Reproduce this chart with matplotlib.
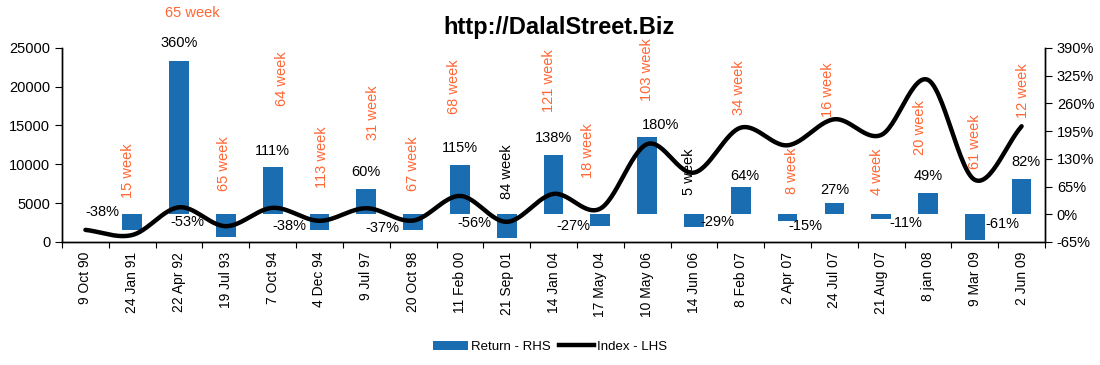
import numpy as np
import matplotlib
matplotlib.use("Agg")
import matplotlib.pyplot as plt
from matplotlib.patches import Patch
from matplotlib.lines import Line2D

plt.rcParams['font.family'] = ['Liberation Sans', 'DejaVu Sans']

# === data ===
dates = ["9 Oct 90", "24 Jan 91", "22 Apr 92", "19 Jul 93", "7 Oct 94", "4 Dec 94",
         "9 Jul 97", "20 Oct 98", "11 Feb 00", "21 Sep 01", "14 Jan 04", "17 May 04",
         "10 May 06", "14 Jun 06", "8 Feb 07", "2 Apr 07", "24 Jul 07", "21 Aug 07",
         "8 jan 08", "9 Mar 09", "2 Jun 09"]
index_lhs = [1560, 900, 4467, 2037, 4400, 2730, 4350, 2760, 5930, 2600, 6190, 4300,
             12600, 8930, 14720, 12450, 15800, 13780, 20870, 8000, 14900]
return_rhs = [np.nan, -38, 360, -53, 111, -38, 60, -37, 115, -56, 138, -27, 180, -29,
              64, -15, 27, -11, 49, -61, 82]
weeks = [None, 15, 65, 65, 64, 113, 31, 67, 68, 84, 121, 18, 103, 5, 34, 8, 16, 4,
         20, 61, 12]

# === label layout (x offset in categories, y in RHS %) ===
week_dx = [0, -0.09, 0.28, -0.04, 0.2, 0.06, 0.15, 0, -0.13, 0, -0.1, -0.26, 0,
           -0.1, -0.04, 0.1, -0.13, -0.08, -0.17, 0, 0.04]
week_y = [0, 101, 471, 118, 317, 134, 239, 118, 300, 99, 314, 148, 340, 99, 296,
          101, 291, 99, 204, 169, 289]
ret_dx = [0, -0.64, 0, -0.83, 0, -0.64, 0, -0.66, 0, -0.7, 0, -0.58, 0.28, 0.51,
          0.09, 0.38, 0, 0.53, 0, 0.6, 0.1]
ret_y = [0, 5, 401, -18, 148, -28, 99, -32, 155, -20, 179, -28, 209, -18, 90, -28,
         57, -20, 90, -23, 122]

BLUE = '#1A6DB0'
ORANGE = '#FF6633'


def smooth(x, y, n=30):
    # catmull-rom style smoothing like the spreadsheet "smoothed line"
    x = np.asarray(x, float)
    y = np.asarray(y, float)
    px = np.concatenate([[2 * x[0] - x[1]], x, [2 * x[-1] - x[-2]]])
    py = np.concatenate([[2 * y[0] - y[1]], y, [2 * y[-1] - y[-2]]])
    xs, ys = [], []
    t = np.linspace(0, 1, n, endpoint=False)
    for i in range(1, len(px) - 2):
        p0, p1, p2, p3 = py[i - 1], py[i], py[i + 1], py[i + 2]
        ys.append(0.5 * (2 * p1 + (-p0 + p2) * t + (2 * p0 - 5 * p1 + 4 * p2 - p3) * t ** 2
                         + (-p0 + 3 * p1 - 3 * p2 + p3) * t ** 3))
        xs.append(px[i] + (px[i + 1] - px[i]) * t)
    xs.append([x[-1]])
    ys.append([y[-1]])
    return np.concatenate(xs), np.concatenate(ys)


fig = plt.figure(figsize=(11, 3.65), dpi=100)
ax = fig.add_axes([0.0564, 0.337, 0.8936, 0.532])
ax2 = ax.twinx()

xpos = np.arange(len(dates))

ax2.bar(xpos, return_rhs, width=0.42, color=BLUE, zorder=2)
sx, sy = smooth(xpos, index_lhs)
ax.plot(sx, sy, color='black', lw=3.2, solid_capstyle='round', zorder=3)

ax.set_zorder(ax2.get_zorder() + 1)
ax.patch.set_visible(False)

ax.set_xlim(-0.5, len(dates) - 0.5)
ax.set_ylim(0, 25000)
ax.set_yticks(np.arange(0, 25001, 5000))
ax2.set_ylim(-65, 390)
ax2.set_yticks(np.arange(-65, 391, 65))
ax2.set_yticklabels([f"{v}%" for v in range(-65, 391, 65)])

ax.set_xticks(np.arange(-0.5, len(dates), 1.0))
ax.set_xticklabels([])
ax.set_xticks(xpos, minor=True)
ax.set_xticklabels(dates, minor=True, rotation=90, fontsize=10)
ax.tick_params(axis='x', which='minor', length=0, pad=7)
ax.tick_params(axis='x', which='major', length=4, direction='out')
ax.tick_params(axis='y', labelsize=10.5, length=5)
ax2.tick_params(axis='y', labelsize=10.5, length=5)

for a in (ax, ax2):
    a.spines['top'].set_visible(False)
    for s in ('left', 'right', 'bottom'):
        a.spines[s].set_linewidth(1.0)

for i in range(len(dates)):
    if weeks[i] is not None:
        col = 'black' if weeks[i] in (84, 5) else ORANGE
        rot = 0 if i == 2 else 90
        ax2.text(i + week_dx[i], week_y[i], f"{weeks[i]} week", color=col, rotation=rot,
                 ha='center', va='center', fontsize=10.5, clip_on=False, zorder=5)
    if not np.isnan(return_rhs[i]):
        ax2.text(i + ret_dx[i], ret_y[i], f"{return_rhs[i]:.0f}%", color='black',
                 ha='center', va='center', fontsize=10.5, clip_on=False, zorder=5)

fig.text(0.508, 0.925, "http://DalalStreet.Biz", ha='center', va='center',
         fontsize=17, fontweight='bold')

handles = [Patch(facecolor=BLUE, edgecolor='none'), Line2D([], [], color='black', lw=3.2)]
fig.legend(handles, ["Return - RHS", "Index - LHS"], loc='center', ncol=2,
           bbox_to_anchor=(0.5, 0.05), frameon=False, fontsize=9.5, handlelength=2.7,
           handletextpad=0.2, columnspacing=0.6)

fig.savefig("out.png", dpi=100)
